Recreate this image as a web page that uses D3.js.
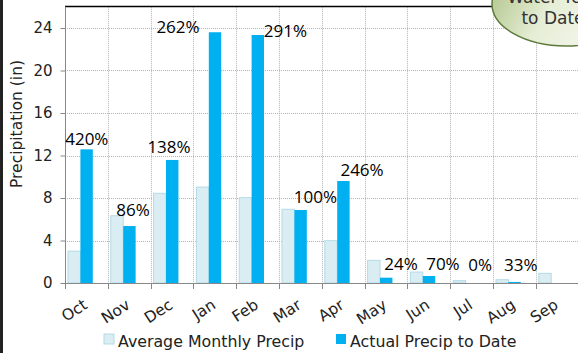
<!DOCTYPE html>
<html><head><meta charset="utf-8">
<script src="https://cdn.jsdelivr.net/npm/d3@7"></script>
<style>body{margin:0;background:#fff;overflow:hidden}svg{display:block}</style>
</head><body><svg id="c" width="578" height="353"></svg>
<script>
const months = ["Oct","Nov","Dec","Jan","Feb","Mar","Apr","May","Jun","Jul","Aug","Sep"];
const avgPrecip = [3.0,6.33,8.44,9.03,8.03,6.94,3.98,2.13,1.03,0.22,0.31,0.91];
const actualPrecip = [12.58,5.36,11.58,23.6,23.34,6.87,9.6,0.5,0.66,0,0.1,null];
const pctLabels = ["420%","86%","138%","262%","291%","100%","246%","24%","70%","0%","33%",null];
const labelAt = [12.99,6.31,12.24,23.53,23.15,7.53,10.07,1.22,1.22,1.13,1.13,null];
const labelShift = [0.01,0.09,-0.07,-0.86,0.65,0.35,0.44,0.35,0.33,0.2,0.15,0];
const yTicks = [0,4,8,12,16,20,24];
const seriesNames = ["Average Monthly Precip","Actual Precip to Date"];

const svg = d3.select("#c");
const gf = "'DejaVu Sans', sans-serif";
const x = d3.scaleBand().domain(months).range([65,578.6]).paddingInner(0).paddingOuter(0);
const y = d3.scaleLinear().domain([0,26]).range([283,6.75]);
const bw = x.bandwidth();
const barW = bw*0.29;
const off = bw*0.07;

// gridlines
svg.append("g").selectAll("line").data(yTicks.filter(d=>d>0)).join("line")
  .attr("x1",65).attr("x2",578).attr("y1",d=>Math.round(y(d))+0.5).attr("y2",d=>Math.round(y(d))+0.5)
  .attr("stroke","#b4b4b4").attr("stroke-width",1).attr("stroke-dasharray","1,1");
svg.append("g").selectAll("line").data(months.slice(1)).join("line")
  .attr("x1",d=>Math.round(x(d))+0.5).attr("x2",d=>Math.round(x(d))+0.5).attr("y1",y(26)).attr("y2",283)
  .attr("stroke","#b4b4b4").attr("stroke-width",1).attr("stroke-dasharray","1,1");

// top border
svg.append("line").attr("x1",65).attr("x2",578).attr("y1",6.5).attr("y2",6.5).attr("stroke","#000").attr("stroke-width",1.5);

// bars
svg.append("g").selectAll("rect").data(months).join("rect")
  .attr("x",d=>x(d)+off).attr("width",barW)
  .attr("y",(d,i)=>y(avgPrecip[i])).attr("height",(d,i)=>y(0)-y(avgPrecip[i]))
  .attr("fill","#daedf3").attr("stroke","#b3dbe6").attr("stroke-width",1);
svg.append("g").selectAll("rect").data(months.filter((d,i)=>actualPrecip[i]!=null)).join("rect")
  .attr("x",d=>x(d)+off+barW).attr("width",barW)
  .attr("y",(d,i)=>y(actualPrecip[i])).attr("height",(d,i)=>y(0)-y(actualPrecip[i]))
  .attr("fill","#00b0f0");

// axes
const yAxis = d3.axisLeft(y).tickValues(yTicks).tickSize(5).tickPadding(8);
const ya = svg.append("g").attr("transform","translate(65.5,0)").call(yAxis);
ya.select(".domain").attr("stroke","#888").attr("d","M0,"+y(26)+"V283");
ya.selectAll(".tick line").attr("stroke","#888");
ya.selectAll("text").attr("font-family",gf).attr("font-size",15).attr("fill","#222");

const xAxis = d3.axisBottom(x).tickSize(0).tickFormat(d=>d);
const xa = svg.append("g").attr("transform","translate(0,283.5)").call(xAxis);
xa.select(".domain").attr("stroke","#888").attr("d","M65,0H578");
xa.selectAll(".tick text").attr("font-family",gf).attr("font-size",15.5).attr("fill","#222")
  .attr("text-anchor","end").attr("dy",0).attr("y",0)
  .attr("transform","translate(2,24) rotate(-33)");
svg.append("g").selectAll("line").data(months).join("line")
  .attr("x1",d=>Math.round(x(d))+0.5).attr("x2",d=>Math.round(x(d))+0.5).attr("y1",283).attr("y2",289)
  .attr("stroke","#888");

// axis title
svg.append("text").attr("transform","translate(22,124) rotate(-90)")
  .attr("text-anchor","middle").attr("font-family",gf).attr("font-size",15.5).attr("fill","#222")
  .text("Precipitation (in)");

// percent labels
svg.append("g").selectAll("text").data(months.filter((d,i)=>pctLabels[i]!=null)).join("text")
  .attr("x",(d,i)=>x(d)+bw/2+labelShift[i]*bw).attr("y",(d,i)=>y(labelAt[i]))
  .attr("text-anchor","middle").attr("font-family","'Open Sans', sans-serif").attr("font-size",17).attr("fill","#000")
  .text((d,i)=>pctLabels[i]);

// legend
const leg = [{x:104,fill:"#daedf3",stroke:"#b3dbe6"},{x:336,fill:"#00b0f0",stroke:"none"}];
leg.forEach((l,i)=>{
  svg.append("rect").attr("x",l.x).attr("y",334).attr("width",10).attr("height",10).attr("fill",l.fill).attr("stroke",l.stroke);
  svg.append("text").attr("x",l.x+14).attr("y",346.5).attr("font-family",gf).attr("font-size",15.8).attr("fill","#222").text(seriesNames[i]);
});

// bubble
const defs = svg.append("defs");
const grad = defs.append("linearGradient").attr("id","bg").attr("x1","0").attr("y1","0").attr("x2","1").attr("y2","0.3");
grad.append("stop").attr("offset","0").attr("stop-color","#a9bf80");
grad.append("stop").attr("offset","0.5").attr("stop-color","#e6eed6");
grad.append("stop").attr("offset","1").attr("stop-color","#f6f8ef");
svg.append("ellipse").attr("cx",566).attr("cy",4).attr("rx",74).attr("ry",42)
  .attr("fill","url(#bg)").attr("stroke","#5d7a3c").attr("stroke-width",1.5);
svg.append("text").attr("x",553).attr("y",3).attr("text-anchor","middle").attr("font-family",gf).attr("font-size",17).attr("fill","#333").text("Water Year");
svg.append("text").attr("x",553).attr("y",24).attr("text-anchor","middle").attr("font-family",gf).attr("font-size",17).attr("fill","#333").text("to Date");

// left dark edge
svg.append("rect").attr("x",0).attr("y",0).attr("width",3).attr("height",353).attr("fill","#222");
</script></body></html>
